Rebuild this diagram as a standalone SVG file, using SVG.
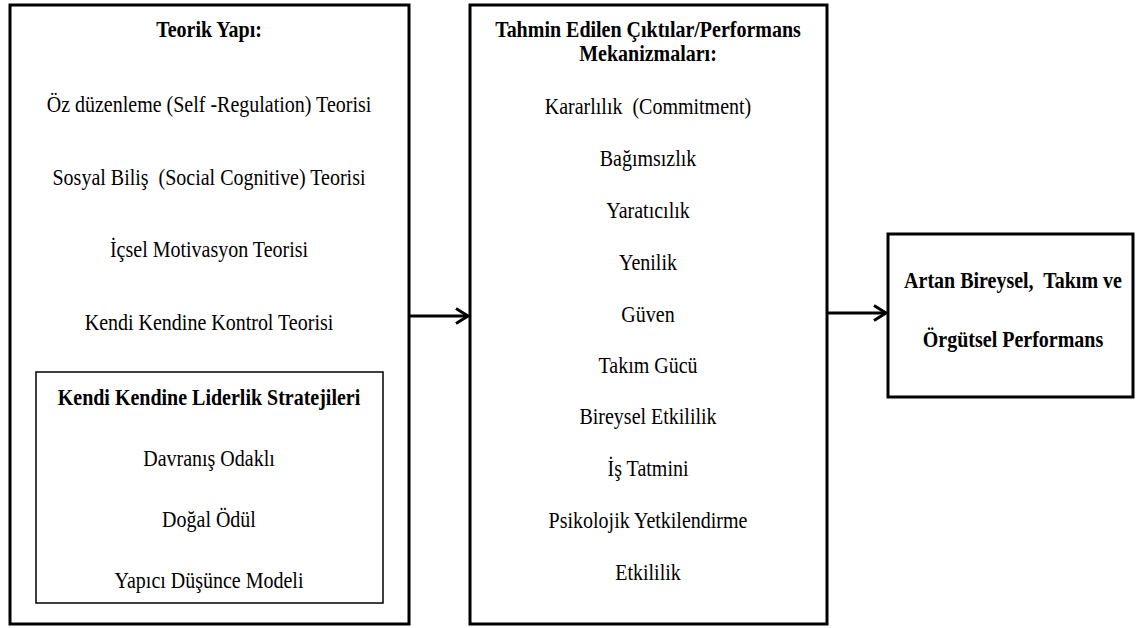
<svg xmlns="http://www.w3.org/2000/svg" width="1136" height="628" viewBox="0 0 1136 628">
<style>
.box{fill:#fff;stroke:#000;stroke-width:3}
.inner{fill:#fff;stroke:#000;stroke-width:1.5}
text{font-size:20px;fill:#000;text-anchor:middle;white-space:pre}
.b{font-weight:bold}
.conn{stroke:#000;stroke-width:3;fill:none}
</style>
<defs>
<marker id="arr" markerUnits="userSpaceOnUse" markerWidth="20" markerHeight="20" refX="15" refY="10" orient="auto">
<path d="M3,2.5 L15,10 L3,17.5" fill="none" stroke="#000" stroke-width="3"/>
</marker>
</defs>
<rect width="1136" height="628" fill="#fff"/>
<g font-family="Liberation Serif, Times New Roman, DejaVu Serif, serif">
<g id="theory">
<rect class="box" x="10" y="5" width="399" height="619"/>
<text class="b" transform="matrix(1,0,0,1.12,209,37)">Teorik Yapı:</text>
<text transform="matrix(1,0,0,1.12,209,112)">Öz düzenleme (Self -Regulation) Teorisi</text>
<text transform="matrix(1,0,0,1.12,209,185)">Sosyal Biliş  (Social Cognitive) Teorisi</text>
<text transform="matrix(1,0,0,1.12,209,257)">İçsel Motivasyon Teorisi</text>
<text transform="matrix(1,0,0,1.12,209,330)">Kendi Kendine Kontrol Teorisi</text>
</g>
<g id="strategies">
<rect class="inner" x="36" y="372" width="347" height="231"/>
<text class="b" transform="matrix(1,0,0,1.12,209,405)">Kendi Kendine Liderlik Stratejileri</text>
<text transform="matrix(1,0,0,1.12,209,466)">Davranış Odaklı</text>
<text transform="matrix(1,0,0,1.12,209,527)">Doğal Ödül</text>
<text transform="matrix(1,0,0,1.12,209,588)">Yapıcı Düşünce Modeli</text>
</g>
<g id="outcomes">
<rect class="box" x="470" y="5" width="357" height="619"/>
<text class="b" transform="matrix(1,0,0,1.12,648,37)">Tahmin Edilen Çıktılar/Performans</text>
<text class="b" transform="matrix(1,0,0,1.12,648,61)">Mekanizmaları:</text>
<text transform="matrix(1,0,0,1.12,648,114)">Kararlılık  (Commitment)</text>
<text transform="matrix(1,0,0,1.12,648,166)">Bağımsızlık</text>
<text transform="matrix(1,0,0,1.12,648,218)">Yaratıcılık</text>
<text transform="matrix(1,0,0,1.12,648,270)">Yenilik</text>
<text transform="matrix(1,0,0,1.12,648,322)">Güven</text>
<text transform="matrix(1,0,0,1.12,648,373)">Takım Gücü</text>
<text transform="matrix(1,0,0,1.12,648,424)">Bireysel Etkililik</text>
<text transform="matrix(1,0,0,1.12,648,476)">İş Tatmini</text>
<text transform="matrix(1,0,0,1.12,648,528)">Psikolojik Yetkilendirme</text>
<text transform="matrix(1,0,0,1.12,648,580)">Etkililik</text>
</g>
<g id="performance">
<rect class="box" x="888" y="234" width="245" height="163"/>
<text class="b" transform="matrix(1,0,0,1.12,1013,288)">Artan Bireysel,  Takım ve</text>
<text class="b" transform="matrix(1,0,0,1.12,1013,347)">Örgütsel Performans</text>
</g>
</g>
<g id="connectors">
<line class="conn" x1="409" y1="316" x2="468" y2="316" marker-end="url(#arr)"/>
<line class="conn" x1="828" y1="313" x2="886" y2="313" marker-end="url(#arr)"/>
</g>
</svg>
